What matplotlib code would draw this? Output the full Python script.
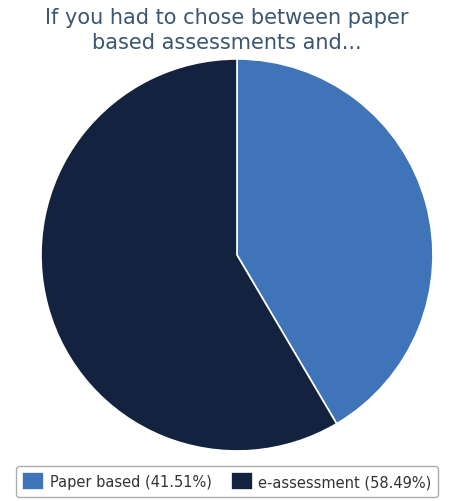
import matplotlib
matplotlib.use("Agg")
from matplotlib import pyplot as plt

labels = ["Paper based", "e-assessment"]
values = [41.51, 58.49]
colors = ["#3f74b9", "#13233f"]
title = "If you had to chose between paper\nbased assessments and..."

fig = plt.figure(figsize=(4.54, 5.02), dpi=100)
ax = fig.add_axes([0.0903, 0.0996, 0.8634, 0.781])

wedges, _ = ax.pie(values, colors=colors, startangle=90, counterclock=False,
                   wedgeprops={"edgecolor": "white", "linewidth": 1.2})
ax.set_xlim(-1.0, 1.0)
ax.set_ylim(-1.0, 1.0)
ax.set_aspect("equal")

fig.text(0.5, 0.984, title, ha="center", va="top", fontsize=15,
         color="#3b5670", linespacing=1.32, family="DejaVu Sans")

leg_labels = [f"{l} ({v:.2f}%)" for l, v in zip(labels, values)]
leg = fig.legend(wedges, leg_labels, loc="lower center", bbox_to_anchor=(0.5, -0.006),
                 ncol=2, fontsize=10.5, frameon=True, fancybox=True,
                 handlelength=1.5, handleheight=1.5, handletextpad=0.4,
                 columnspacing=1.3, borderpad=0.45)
leg.get_frame().set_edgecolor("#999999")
leg.get_frame().set_linewidth(1.0)
for t in leg.get_texts():
    t.set_color("#333333")

fig.savefig("out.png", dpi=100)
